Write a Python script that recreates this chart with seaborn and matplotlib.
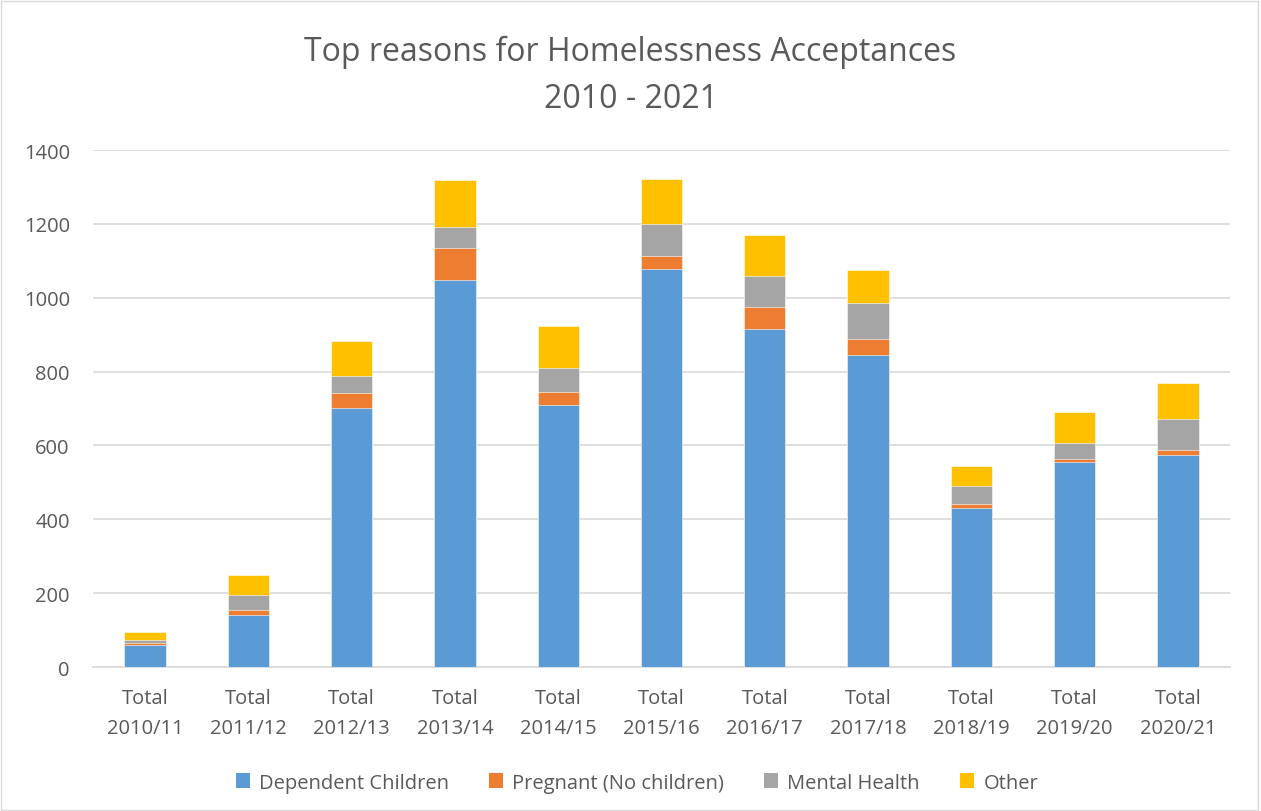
import numpy as np
import pandas as pd
import matplotlib
matplotlib.use("Agg")
import matplotlib.pyplot as plt
import seaborn as sns
from matplotlib.patches import Patch, Rectangle

years = ["2010/11", "2011/12", "2012/13", "2013/14", "2014/15", "2015/16",
         "2016/17", "2017/18", "2018/19", "2019/20", "2020/21"]
categories = ["Total\n" + y for y in years]
dependent_children = [60, 141, 702, 1049, 709, 1079, 915, 846, 431, 554, 574]
pregnant = [6, 14, 41, 85, 36, 33, 61, 43, 10, 8, 14]
mental_health = [7, 39, 45, 57, 64, 87, 83, 98, 50, 46, 83]
other = [23, 54, 94, 129, 114, 123, 111, 89, 53, 83, 97]

series_names = ["Dependent Children", "Pregnant (No children)", "Mental Health", "Other"]
series_values = [dependent_children, pregnant, mental_health, other]
colors = ["#5B9BD5", "#ED7D31", "#A5A5A5", "#FFC000"]

sns.set_style("white")
plt.rcParams['font.family'] = ['Open Sans', 'DejaVu Sans']

fig = plt.figure(figsize=(12.61, 8.12), dpi=100)
ax = fig.add_axes([0.0741, 0.1773, 0.901, 0.6367])

cum = np.cumsum(np.array(series_values), axis=0)
# draw from top layer down so lower layers overlay
for i in range(len(series_names) - 1, -1, -1):
    df = pd.DataFrame({"cat": categories, "val": cum[i]})
    sns.barplot(data=df, x="cat", y="val", color=colors[i], width=0.4,
                saturation=1, ax=ax, edgecolor="white", linewidth=0.4,
                errorbar=None, zorder=3)

ax.set_ylim(0, 1400)
ax.set_xlim(-0.5, len(categories) - 0.5)
ax.set_yticks(range(0, 1401, 200))
ax.yaxis.grid(True, color="#D9D9D9", linewidth=1.2, zorder=0)
ax.set_axisbelow(True)
for s in ["left", "right", "top"]:
    ax.spines[s].set_visible(False)
ax.spines["bottom"].set_color("#D9D9D9")
ax.spines["bottom"].set_linewidth(1.2)
ax.set_xlabel("")
ax.set_ylabel("")
ax.tick_params(axis="both", length=0, labelsize=14.5, colors="#595959")
ax.tick_params(axis="x", pad=15)
ax.tick_params(axis="y", pad=17)
for lbl in ax.get_xticklabels():
    lbl.set_linespacing(1.65)

fig.text(0.5, 0.935, "Top reasons for Homelessness Acceptances", ha="center", va="center",
         fontsize=23, color="#595959")
fig.text(0.5, 0.877, "2010 - 2021", ha="center", va="center",
         fontsize=23, color="#595959")

handles = [Patch(facecolor=c, edgecolor="none") for c in colors]
fig.legend(handles, series_names, loc="center", bbox_to_anchor=(0.505, 0.035), ncol=4,
           frameon=False, fontsize=14.5, handlelength=0.7, handleheight=0.7,
           handletextpad=0.45, columnspacing=2.0, labelcolor="#595959")

fig.patches.append(Rectangle((0.001, 0.001), 0.997, 0.997, transform=fig.transFigure,
                             fill=False, edgecolor="#D9D9D9", linewidth=1))

fig.savefig("out.png", dpi=100)
